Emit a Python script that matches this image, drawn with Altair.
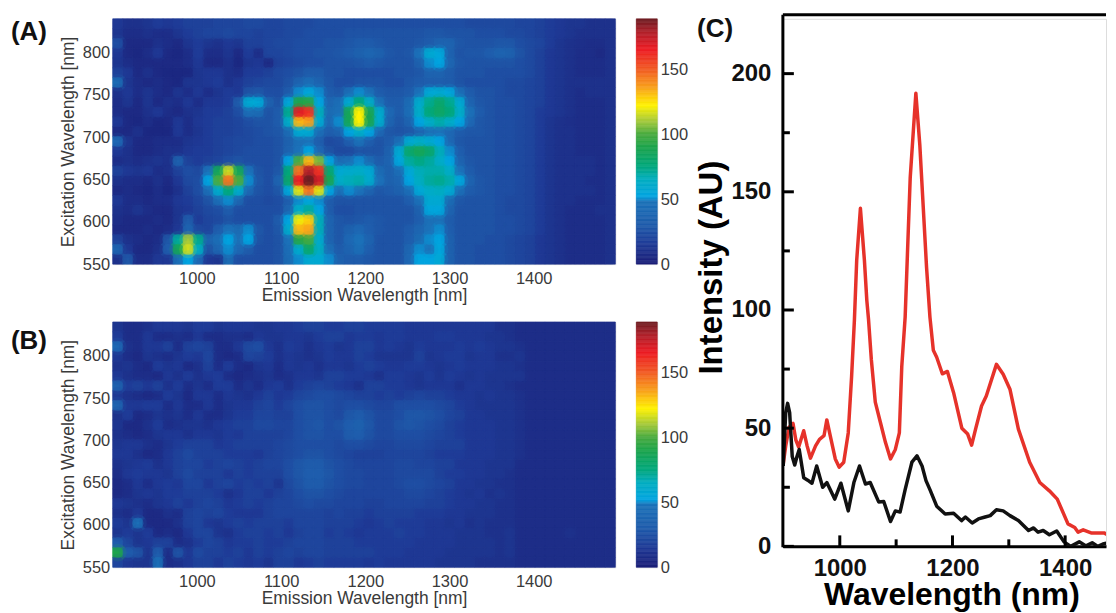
import altair as alt
import pandas as pd

GRID_A = [
[14,10,10,12,16,14,16,18,18,18,20,20,20,22,22,20,20,22,22,22,24,24,24,24,24,24,24,24,24,24,24,24,24,24,24,22,22,22,22,22,20,20,18,16,14,12,12,10,10,10],
[12,8,8,10,8,8,12,16,18,20,20,22,20,20,18,20,20,22,22,24,24,24,24,26,26,26,26,26,26,26,26,28,28,26,26,26,24,24,24,22,22,20,18,16,14,12,10,10,10,10],
[24,6,6,6,10,8,6,12,16,12,10,14,12,18,18,20,22,22,24,24,24,26,26,28,30,30,28,26,26,26,28,30,36,36,28,26,26,26,28,28,24,22,20,16,12,10,9,8,8,10],
[14,6,5,8,14,6,5,8,16,8,8,12,6,16,8,20,20,22,24,24,26,26,28,30,34,38,34,28,26,28,48,58,55,35,26,28,28,32,36,34,26,22,18,14,12,10,8,8,6,10],
[12,8,6,6,6,6,6,8,14,6,6,10,5,12,14,6,18,20,22,24,24,26,26,26,28,30,28,26,26,26,34,50,52,38,28,26,26,26,26,26,24,22,18,14,12,10,8,8,8,10],
[18,14,6,10,6,5,5,5,12,14,14,10,8,16,16,18,22,24,26,30,30,26,26,24,24,24,24,24,26,26,28,36,36,30,26,26,26,24,24,24,24,22,18,14,12,10,8,8,8,10],
[42,12,8,6,8,6,5,12,12,14,16,10,14,18,20,22,22,26,36,44,36,28,24,24,26,26,26,24,24,28,30,32,32,30,26,24,24,24,24,22,22,20,18,14,12,10,10,10,10,10],
[10,14,8,12,8,6,12,8,14,8,12,16,14,26,28,24,24,30,50,55,50,30,28,44,50,46,30,28,28,30,48,56,58,54,44,30,26,26,24,22,22,20,18,14,12,10,8,10,10,10],
[8,12,6,12,6,10,8,14,8,14,14,16,30,58,56,34,26,55,90,92,52,38,44,58,75,62,46,30,30,42,60,72,80,72,58,36,28,26,24,24,22,20,18,14,12,10,8,8,8,10],
[8,6,6,10,14,8,6,10,12,16,16,18,24,44,42,26,30,72,168,160,66,42,46,86,122,88,60,40,30,44,62,76,82,76,62,46,30,26,24,24,22,20,16,14,12,10,8,8,8,10],
[14,6,5,8,5,6,14,8,14,16,18,18,20,24,26,26,30,62,132,136,58,40,50,86,122,88,60,36,28,36,52,62,68,62,52,40,28,26,24,24,22,20,16,12,10,9,8,8,8,10],
[6,6,10,5,5,5,14,8,12,16,18,18,20,22,24,26,28,42,58,58,44,32,36,52,62,52,40,28,26,28,36,46,48,40,30,28,28,26,24,24,22,20,16,12,10,10,8,8,8,10],
[40,12,6,6,8,8,8,12,14,16,18,20,22,22,24,24,26,34,46,48,32,22,24,32,46,32,26,30,44,58,62,58,52,40,28,26,26,26,24,24,22,20,16,12,10,10,8,8,8,10],
[14,10,6,6,8,10,10,14,16,16,18,20,22,24,24,24,26,36,48,52,40,26,22,22,26,26,26,34,58,80,86,80,66,50,32,26,26,26,24,24,22,20,16,12,10,10,8,8,8,10],
[8,10,8,10,12,10,34,18,16,18,20,24,26,24,24,24,26,52,100,132,105,52,42,46,50,42,30,36,54,70,74,70,62,52,36,28,26,26,24,24,22,20,16,12,10,10,10,10,8,10],
[18,14,12,14,8,10,18,24,22,48,85,115,85,48,26,24,28,75,145,178,160,78,58,60,62,58,42,34,44,56,66,68,68,62,48,30,26,26,24,24,22,20,16,12,10,10,10,10,8,10],
[10,8,8,6,10,6,14,22,24,52,100,145,100,50,28,24,36,80,165,189,172,88,62,66,68,60,48,34,38,52,64,70,72,68,54,36,28,26,24,24,22,20,16,12,10,10,10,8,8,10],
[6,8,6,5,8,5,10,18,24,44,60,75,60,40,26,24,28,55,118,145,118,52,44,50,48,36,28,30,34,44,56,62,64,58,44,30,28,26,24,24,22,20,16,12,10,10,10,10,8,10],
[14,8,8,6,8,8,14,16,20,26,44,50,38,24,24,22,24,32,50,54,50,30,26,26,26,26,26,26,26,32,46,58,58,42,28,26,26,26,24,22,22,20,16,12,10,10,8,8,8,10],
[10,8,12,8,6,6,12,14,18,22,24,30,24,24,24,24,24,38,62,70,52,30,24,24,26,26,26,26,26,26,34,54,54,36,26,26,26,26,24,22,22,20,16,12,10,8,8,8,10,10],
[8,6,6,6,8,6,12,30,16,20,22,26,24,24,24,24,30,52,120,128,66,36,28,26,28,30,28,26,26,26,32,46,46,30,26,26,26,26,24,24,22,20,16,12,10,8,8,8,8,10],
[6,6,6,8,6,8,14,36,22,20,32,48,42,50,28,24,28,60,132,135,66,36,28,34,40,32,28,26,26,30,38,48,50,32,26,26,26,26,24,24,22,20,16,12,10,8,8,8,8,10],
[18,10,8,6,8,28,70,110,72,36,44,52,46,52,26,24,26,48,92,98,60,36,28,40,48,36,26,26,26,32,42,50,52,34,26,26,26,24,24,22,20,18,14,12,10,8,8,8,8,10],
[36,14,6,6,10,32,86,116,64,26,38,50,40,30,24,24,26,44,60,80,64,44,30,36,44,32,26,26,26,38,50,48,54,34,26,26,24,24,24,22,20,18,14,12,10,8,8,8,8,10],
[10,28,8,8,14,14,44,52,40,14,12,42,24,24,24,24,26,42,50,58,58,50,34,30,30,28,26,26,26,40,52,52,56,34,26,26,24,24,24,22,20,18,14,12,10,8,8,8,8,10],
]

GRID_B = [
[12,8,8,10,14,14,14,12,16,16,12,14,14,14,12,12,14,14,16,18,18,16,16,18,18,16,16,16,16,14,14,14,14,14,14,14,14,14,10,10,8,8,8,8,8,8,8,8,8,8],
[16,8,8,14,8,8,10,8,14,8,8,10,10,8,14,12,12,14,14,12,16,18,18,14,16,16,14,16,16,14,14,14,16,16,14,14,14,12,12,10,8,8,8,8,8,8,8,8,8,8],
[40,10,8,14,14,18,8,18,20,18,8,8,14,22,24,14,10,16,14,10,14,16,12,14,18,18,14,16,14,12,16,14,14,14,16,14,16,14,12,12,10,8,8,8,8,8,8,8,8,8],
[14,8,6,12,10,8,12,16,14,20,8,6,8,20,18,16,10,14,12,10,12,16,14,14,18,16,12,12,12,12,18,12,14,16,16,12,14,14,10,10,12,8,8,8,8,8,8,8,8,8],
[10,12,8,6,16,12,14,6,10,18,8,16,8,6,12,14,8,14,12,14,10,14,14,12,16,18,16,14,14,16,16,14,12,14,16,14,14,14,12,12,10,8,8,8,8,8,8,8,8,8],
[14,10,8,8,6,14,10,16,10,14,16,8,6,8,10,12,8,10,14,14,12,18,18,16,16,14,10,16,16,14,12,16,12,16,14,12,14,12,12,12,12,8,8,8,8,8,8,8,8,8],
[34,16,18,14,18,10,16,8,12,8,16,16,8,12,8,14,16,10,16,18,20,18,16,14,10,18,18,16,16,14,12,14,14,14,10,14,14,12,12,10,8,8,8,8,8,8,8,8,8,8],
[14,10,8,6,8,16,12,6,14,14,8,14,12,10,14,18,14,16,20,22,24,24,22,20,18,18,16,18,16,18,20,18,18,16,14,14,12,14,12,12,10,8,8,8,8,8,8,8,8,8],
[36,14,14,16,16,8,14,8,8,14,8,12,14,14,18,20,16,20,24,26,26,24,22,24,24,22,20,20,24,24,24,24,22,20,16,14,12,12,12,12,10,8,8,8,8,8,8,8,8,8],
[10,16,6,8,12,10,12,8,14,8,8,12,16,16,20,20,18,18,24,26,26,24,22,28,30,26,22,22,24,28,28,26,24,20,18,14,14,12,12,12,10,8,8,8,8,8,8,8,8,8],
[12,6,6,10,16,8,10,12,12,10,14,16,18,18,22,22,20,20,24,26,28,24,26,32,34,28,22,22,26,28,26,24,22,18,16,14,14,14,12,12,10,8,8,8,8,8,8,8,8,8],
[10,8,6,8,12,14,14,10,14,14,12,16,14,18,18,18,18,20,24,26,26,24,24,30,32,26,22,22,24,24,24,22,20,18,16,14,14,14,12,12,10,8,8,8,8,8,8,8,8,8],
[12,14,14,10,8,12,16,18,18,18,14,16,18,18,18,18,20,22,24,24,24,24,22,24,24,22,20,20,22,22,22,20,18,18,18,14,14,14,12,12,10,8,8,8,8,8,8,8,8,8],
[14,14,10,6,8,14,18,22,18,18,18,16,16,16,14,18,20,22,24,26,26,24,22,20,18,18,18,20,20,20,20,18,16,16,16,14,14,14,12,12,10,8,8,8,8,8,8,8,8,8],
[10,12,14,16,10,14,18,20,20,16,18,20,18,16,18,20,20,24,28,30,30,26,24,22,20,20,20,20,22,22,20,20,18,18,14,14,14,12,12,12,8,8,8,8,8,8,8,8,8,8],
[8,14,16,14,14,12,18,22,18,18,18,14,18,16,18,18,18,24,28,32,32,28,24,22,22,20,20,20,22,22,22,22,18,16,16,14,14,12,12,10,8,8,8,8,8,8,8,8,8,8],
[6,8,14,8,14,16,14,20,20,14,18,20,16,18,16,18,12,22,26,30,30,26,24,22,22,20,20,20,22,24,24,22,20,18,14,14,12,12,10,10,8,8,8,8,8,8,8,8,8,8],
[6,8,12,14,12,16,16,18,18,18,16,10,14,18,18,14,18,20,24,26,26,24,22,20,20,20,20,20,20,22,22,20,18,16,14,12,14,10,12,10,8,8,8,8,8,8,8,8,8,8],
[14,12,10,8,12,14,18,14,18,20,18,14,16,18,16,18,20,20,22,24,22,22,20,20,20,18,18,20,20,20,20,18,18,16,14,14,12,12,10,10,8,8,8,8,8,8,8,8,8,8],
[10,8,14,6,6,10,8,18,20,18,20,16,14,14,14,18,20,20,20,20,20,18,20,18,18,16,18,18,18,18,16,16,16,14,14,12,12,12,10,10,8,8,8,8,8,8,8,8,8,8],
[16,12,46,6,6,6,10,18,20,14,12,16,18,16,18,18,18,16,20,20,20,18,18,18,16,14,16,18,16,16,16,14,14,12,14,10,12,10,10,10,8,8,8,8,8,8,8,8,8,8],
[12,16,12,16,6,8,6,14,20,20,12,10,16,18,18,16,18,14,18,20,20,16,18,16,14,16,16,16,18,16,16,14,14,14,12,12,12,10,10,12,8,8,8,8,8,10,8,8,8,8],
[30,20,12,14,18,18,8,10,16,20,18,14,16,16,18,16,16,18,20,20,20,18,18,18,16,16,16,16,16,16,14,14,14,14,12,12,12,12,10,12,8,8,8,8,8,8,8,8,8,8],
[90,30,26,12,30,8,26,14,22,18,18,16,18,14,18,16,18,20,18,20,20,18,18,18,18,18,16,16,16,14,14,14,14,12,12,12,12,12,10,12,8,8,8,8,8,8,8,8,8,8],
[20,14,12,12,44,8,10,14,18,18,14,18,16,14,16,12,18,18,14,16,18,16,16,16,16,14,16,14,14,14,14,14,12,12,12,12,10,10,10,10,8,8,8,8,8,8,8,8,8,8],
]

RED_NM = [899.6,904,910,917,922,927,936,942,948,957,964,972,977,983,992,999,1007,1015,1021,1026,1030,1036.6,1043.7,1048,1051,1056,1063,1072,1081,1090,1098.6,1105.7,1110,1116,1125,1135,1142,1154,1160,1166,1172,1182,1191,1202,1216.6,1227,1234,1241,1251.6,1260,1278,1290,1302,1317,1337,1355,1372,1386,1405,1417,1423,1432,1446,1469,1479,1487]
RED_AU = [34.8,42.5,50.4,52,45,42,48.9,42.5,37.3,42.5,45.3,46.8,53.5,46.8,37,33.5,35.6,48,72,96,121,143,121,104,96,79,61,52.5,44,37,41,48,76,97,156,191.7,170,118,97,83,80,73,74,65,50,47.5,42.8,49.6,59.4,63.6,77,72.8,66.5,49.6,35.6,27,23.5,20,9.5,8,6,7,5.7,5.7,4.4,3]
BLACK_NM = [899.6,904,907.4,911,915.6,920,924,928,936,943,950.6,959,969.6,977,991,1002,1015,1025,1035,1045.5,1054,1069,1078,1090,1098.6,1107,1116,1128,1137,1146,1153,1160,1172,1187,1202,1216,1223,1235,1246,1258,1267,1278,1290,1302,1317,1335,1344,1352,1361,1372,1385,1398,1410,1425,1437,1448,1458,1467,1487]
BLACK_AU = [34,56.6,60.5,56.6,38,34.4,38,41,29,28,26.7,34,25,27,20,26.7,15,27,34,26.4,27,18.8,19,10.5,15,14.5,24,35.6,38.3,34,27.8,24,17,13.7,14,10.9,12.4,9.9,11.6,12.4,13,15.5,15,13,10.9,6.7,7.8,6,6.7,4.9,6.5,1.9,0,1.9,0.2,1.5,0,1,2]

COLOR_STOPS = [0,15,30,48,52,65,75,90,100,110,122,135,150,165,178,189]
COLOR_VALUES = ["#1b1f78","#1f3a96","#1f5cab","#1b72b9","#00a4e0","#00adc0","#00a77c","#1da44b","#4aab3f","#a5c93a","#fff200","#f9a51a","#f15a24","#ed1c24","#b3202a","#6b1e22"]
BAR_LEVELS = list(range(0, 189))
BAR_TICKS = [0,50,100,150]
HEAT_X_TICKS = [1000,1100,1200,1300,1400]
HEAT_Y_TICKS = [550,600,650,700,750,800]
C_X_MAJOR = [1000,1200,1400]
C_X_MINOR = [1100,1300]
C_Y_MAJOR = [0,50,100,150,200]
C_Y_MINOR = [25,75,125,175]

FONT = "Liberation Sans"
TEXT = "#3a3a3a"
X0, X1, Y0, Y1 = 900, 1497, 550, 840
DX = (X1 - X0) / 50
DY = (Y1 - Y0) / 25
color_scale = alt.Scale(domain=COLOR_STOPS, range=COLOR_VALUES, interpolate="rgb")


def heat(grid, label, label_y):
    assert len(grid) == 25 and all(len(r) == 50 for r in grid)
    rows = []
    for j, row in enumerate(grid):
        for i, v in enumerate(row):
            rows.append({"x": X0 + i * DX, "x2": X0 + (i + 1) * DX,
                         "xc": X0 + (i + .5) * DX, "yc": Y1 - (j + .5) * DY,
                         "y": Y1 - j * DY, "y2": Y1 - (j + 1) * DY, "v": v})
    df = pd.DataFrame(rows)
    sx = alt.Scale(domain=[X0, X1], nice=False, zero=False)
    sy = alt.Scale(domain=[Y0, Y1], nice=False, zero=False)
    rect = alt.Chart(df).mark_rect(strokeWidth=0.6).encode(
        x=alt.X("x:Q", title="Emission Wavelength [nm]", scale=sx,
                axis=alt.Axis(values=HEAT_X_TICKS, tickSize=0, grid=False, domain=False,
                              labelFont=FONT, labelFontSize=16.5, labelColor=TEXT, labelPadding=6,
                              labelFlush=False, format="d",
                              titleFont=FONT, titleFontSize=17.5, titleFontWeight="normal",
                              titleColor=TEXT, titlePadding=0)),
        x2="x2:Q",
        y=alt.Y("y:Q", title="Excitation Wavelength [nm]", scale=sy,
                axis=alt.Axis(values=HEAT_Y_TICKS, tickSize=0, grid=False, domain=False,
                              labelFont=FONT, labelFontSize=16.5, labelColor=TEXT, labelPadding=3,
                              labelFlush=False, format="d",
                              titleFont=FONT, titleFontSize=17.5, titleFontWeight="normal",
                              titleColor=TEXT, titlePadding=5)),
        y2="y2:Q",
        color=alt.Color("v:Q", scale=color_scale, legend=None),
        stroke=alt.Stroke("v:Q", scale=color_scale, legend=None),
    )
    ordered = df.sort_values("v", kind="stable")
    wide = alt.Chart(ordered).mark_circle(size=320, opacity=0.3, clip=True, strokeWidth=0).encode(
        x=alt.X("xc:Q", scale=sx), y=alt.Y("yc:Q", scale=sy),
        color=alt.Color("v:Q", scale=color_scale, legend=None))
    soft = alt.Chart(ordered).mark_circle(size=130, opacity=0.5, clip=True, strokeWidth=0).encode(
        x=alt.X("xc:Q", scale=sx), y=alt.Y("yc:Q", scale=sy),
        color=alt.Color("v:Q", scale=color_scale, legend=None))
    tag = alt.Chart(pd.DataFrame({"t": [label]})).mark_text(
        font=FONT, fontSize=26, fontWeight="bold", align="left", baseline="middle", color="#111111"
    ).encode(text="t:N", x=alt.value(-102), y=alt.value(label_y))
    return alt.layer(rect, wide, soft, tag).properties(width=504, height=246)


def colorbar():
    df = pd.DataFrame({"v": BAR_LEVELS, "v2": [b + 1 for b in BAR_LEVELS]})
    return alt.Chart(df).mark_rect(strokeWidth=0.6).encode(
        y=alt.Y("v:Q", title=None, scale=alt.Scale(domain=[0, 189], nice=False),
                axis=alt.Axis(orient="right", values=BAR_TICKS, tickSize=0, grid=False, domain=False,
                              labelFont=FONT, labelFontSize=16.5, labelColor=TEXT, labelPadding=3,
                              labelFlush=False)),
        y2="v2:Q",
        color=alt.Color("v:Q", scale=color_scale, legend=None),
        stroke=alt.Stroke("v:Q", scale=color_scale, legend=None),
    ).properties(width=21, height=246)


df_red = pd.DataFrame({"x": RED_NM, "y": RED_AU})
df_black = pd.DataFrame({"x": BLACK_NM, "y": BLACK_AU})
x_scale = alt.Scale(domain=[899, 1472.5], nice=False, zero=False)
y_scale = alt.Scale(domain=[0, 223.2], nice=False)

red = alt.Chart(df_red).mark_line(color="#e6322a", strokeWidth=3.5, strokeJoin="round", clip=True).encode(
    x=alt.X("x:Q", scale=x_scale, title="Wavelength (nm)",
            axis=alt.Axis(values=C_X_MAJOR, tickSize=0, grid=False, domain=True, domainWidth=3,
                          domainColor="#000000", labelFont=FONT, labelFontSize=24, labelFontWeight="bold",
                          labelColor="#111111", labelPadding=10, labelFlush=False, format="d",
                          titleFont=FONT, titleFontSize=32, titleFontWeight="bold", titleColor="#000000",
                          titlePadding=-1, titleX=169)),
    y=alt.Y("y:Q", scale=y_scale, title="Intensity (AU)",
            axis=alt.Axis(values=C_Y_MAJOR, tickSize=0, grid=False, domain=False,
                          labelFont=FONT, labelFontSize=24, labelFontWeight="bold",
                          labelColor="#111111", labelPadding=12, labelFlush=False,
                          titleFont=FONT, titleFontSize=33, titleFontWeight="bold", titleColor="#000000",
                          titlePadding=3, titleY=249)),
)
black = alt.Chart(df_black).mark_line(color="#111111", strokeWidth=3.5, strokeJoin="round", clip=True).encode(
    x=alt.X("x:Q", scale=x_scale), y=alt.Y("y:Q", scale=y_scale))

tick_style = dict(color="#000000", strokeWidth=3)
y_major = alt.Chart(pd.DataFrame({"v": C_Y_MAJOR})).mark_rule(**tick_style).encode(
    y=alt.Y("v:Q", scale=y_scale), x=alt.value(0), x2=alt.value(11))
y_minor = alt.Chart(pd.DataFrame({"v": C_Y_MINOR})).mark_rule(**tick_style).encode(
    y=alt.Y("v:Q", scale=y_scale), x=alt.value(0), x2=alt.value(7))
x_major = alt.Chart(pd.DataFrame({"v": C_X_MAJOR})).mark_rule(**tick_style).encode(
    x=alt.X("v:Q", scale=x_scale), y=alt.value(529), y2=alt.value(518))
x_minor = alt.Chart(pd.DataFrame({"v": C_X_MINOR})).mark_rule(**tick_style).encode(
    x=alt.X("v:Q", scale=x_scale), y=alt.value(529), y2=alt.value(522))
one = pd.DataFrame({"k": [1]})
left_spine = alt.Chart(one).mark_rule(color="#000000", strokeWidth=3).encode(
    x=alt.value(0), y=alt.value(-4), y2=alt.value(530))
top_spine = alt.Chart(one).mark_rule(color="#000000", strokeWidth=3).encode(
    x=alt.value(0), x2=alt.value(324), y=alt.value(-4))
c_tag = alt.Chart(pd.DataFrame({"t": ["(C)"]})).mark_text(
    font=FONT, fontSize=26, fontWeight="bold", align="left", baseline="middle", color="#111111"
).encode(text="t:N", x=alt.value(-86), y=alt.value(10))

panel_c = alt.layer(red, black, y_major, y_minor, x_major, x_minor, left_spine, top_spine, c_tag).properties(
    width=324, height=529)

row_a = alt.hconcat(heat(GRID_A, "(A)", 13), colorbar(), spacing=19)
row_b = alt.hconcat(heat(GRID_B, "(B)", 19), colorbar(), spacing=19)
left = alt.vconcat(row_a, row_b, spacing=16)
chart = alt.hconcat(left, panel_c, spacing=5).properties(
    padding={"left": 2, "right": 0, "top": 4, "bottom": 0}
).configure_view(stroke=None).configure(background="#ffffff")

chart.save("out.html", embed_options={"renderer": "svg", "actions": False})
